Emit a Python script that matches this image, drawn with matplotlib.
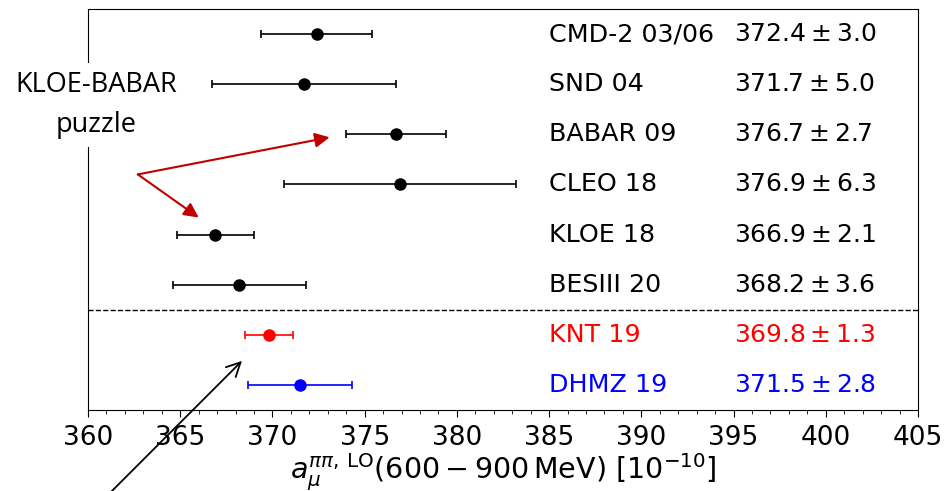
import matplotlib
matplotlib.use("Agg")
import matplotlib.pyplot as plt
from matplotlib.ticker import MultipleLocator

names = ["CMD-2 03/06", "SND 04", "BABAR 09", "CLEO 18", "KLOE 18", "BESIII 20", "KNT 19", "DHMZ 19"]
values = [372.4, 371.7, 376.7, 376.9, 366.9, 368.2, 369.8, 371.5]
errors = [3.0, 5.0, 2.7, 6.3, 2.1, 3.6, 1.3, 2.8]
colors = ["black", "black", "black", "black", "black", "black", "red", "blue"]
val_labels = [r"$372.4 \pm 3.0$", r"$371.7 \pm 5.0$", r"$376.7 \pm 2.7$", r"$376.9 \pm 6.3$",
              r"$366.9 \pm 2.1$", r"$368.2 \pm 3.6$", r"$369.8 \pm 1.3$", r"$371.5 \pm 2.8$"]

fig = plt.figure(figsize=(9.48, 4.91), dpi=100)
ax = fig.add_axes([88/948, 1-410/491, (918-88)/948, (410-9)/491])

for i, (v, e, c) in enumerate(zip(values, errors, colors)):
    ax.errorbar(v, i, xerr=e, fmt='o', color=c, ecolor=c, markersize=8,
                elinewidth=1.2, capsize=3, capthick=1.2)
    ax.text(385, i, names[i], color=c, fontsize=18.3, va='center', ha='left')
    ax.text(395, i, val_labels[i], color=c, fontsize=18, va='center', ha='left')

ax.axhline(5.5, color='black', linestyle='--', lw=1.0)

ax.set_xlim(360, 405)
ax.set_ylim(7.5, -0.5)
ax.set_yticks([])
ax.xaxis.set_major_locator(MultipleLocator(5))
ax.xaxis.set_minor_locator(MultipleLocator(1))
ax.tick_params(axis='x', which='major', direction='out', length=5, labelsize=19, pad=6)
ax.tick_params(axis='x', which='minor', direction='out', length=3)
ax.set_xlabel(r"$a_\mu^{\pi\pi,\,\mathrm{LO}}(600-900\,\mathrm{MeV})\ [10^{-10}]$", fontsize=20.5, labelpad=0)

# KLOE-BABAR puzzle annotation
ax.text(96/948, 1-105/491, "KLOE-BABAR\npuzzle", transform=fig.transFigure,
        ha='center', va='center', fontsize=19.5, family='Open Sans', linespacing=1.55,
        bbox=dict(facecolor='white', edgecolor='none', pad=6), zorder=5)

red = '#c00000'
start = (362.7, 2.8)
ax.annotate("", xy=(373.1, 2.06), xytext=start,
            arrowprops=dict(arrowstyle='-|>', color=red, lw=1.5, mutation_scale=22,
                            shrinkA=0, shrinkB=0), annotation_clip=False)
ax.annotate("", xy=(366.0, 3.66), xytext=start,
            arrowprops=dict(arrowstyle='-|>', color=red, lw=1.5, mutation_scale=22,
                            shrinkA=0, shrinkB=0), annotation_clip=False)

# black arrow from bottom
ax.annotate("", xy=(368.35, 6.52), xycoords='data',
            xytext=(107/948, -0.01), textcoords='figure fraction',
            arrowprops=dict(arrowstyle='->', color='black', lw=1.3, mutation_scale=25,
                            shrinkA=0, shrinkB=0), annotation_clip=False)

fig.savefig("out.png", dpi=100)
